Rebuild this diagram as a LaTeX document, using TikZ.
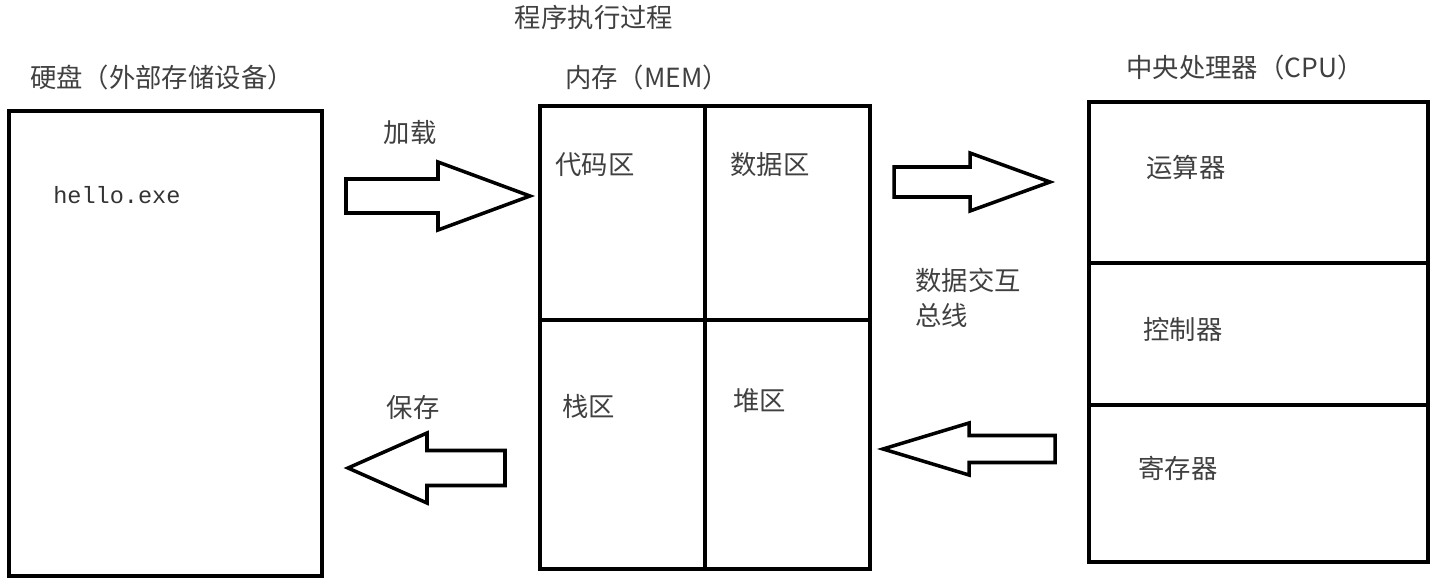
\documentclass[tikz,border=0pt]{standalone}
\usepackage{fontspec}
\setmainfont{Noto Sans CJK SC}
\setmonofont{Liberation Mono}
\usetikzlibrary{positioning}

% fat outline arrow: tail x, head base x, tip x, centre y, shaft half, head half
\newcommand\fatarrow[6]{%
  \draw[fat] (#1,#4-#5) -- (#2,#4-#5) -- (#2,#4-#6) -- (#3,#4)
    -- (#2,#4+#6) -- (#2,#4+#5) -- (#1,#4+#5) -- cycle;}

\begin{document}
\begin{tikzpicture}[
  x=0.02cm, y=-0.02cm,
  box/.style={draw, line width=2pt, inner sep=0pt},
  fat/.style={line width=2pt, line join=miter},
  lbl/.style={text=black!75, font=\fontsize{15pt}{18pt}\selectfont, inner sep=0pt},
  sub/.style={lbl, anchor=west},
]
  \useasboundingbox (0,0) rectangle (1438,578);

  % boxes
  \node[box, minimum width=6.26cm, minimum height=9.3cm] (disk) at (165.5,343.5) {};
  \node[box, minimum width=6.6cm, minimum height=9.26cm] (mem) at (705,337.5) {};
  \node[box, minimum width=6.78cm, minimum height=9.2cm] (cpu) at (1258.5,332) {};

  % memory quarters
  \coordinate (memmid) at (705,320);
  \draw[line width=2pt] (mem.north) -- (mem.south);
  \draw[line width=2pt] (mem.west |- memmid) -- (mem.east |- memmid);

  % cpu parts
  \coordinate (cpua) at (1258,263);
  \coordinate (cpub) at (1258,405);
  \draw[line width=2pt] (cpu.west |- cpua) -- (cpu.east |- cpua);
  \draw[line width=2pt] (cpu.west |- cpub) -- (cpu.east |- cpub);

  % titles
  \node[lbl] (title) at (594,17) {程序执行过程};
  \node[lbl] (disklbl) at (162,77) {硬盘（外部存储设备）};
  \node[lbl] (memlbl) at (647,77) {内存（MEM）};
  \node[lbl] (cpulbl) at (1245,67) {中央处理器（CPU）};

  % contents
  \node[anchor=west, inner sep=0pt, text=black!80,
        font=\ttfamily\fontsize{13.4pt}{16pt}\selectfont] (exe) at (53,195) {hello.exe};
  \node[sub] (code) at (555,165) {代码区};
  \node[sub] (data) at (730,165) {数据区};
  \node[sub] (stack) at (562,406) {栈区};
  \node[sub] (heap) at (733,401) {堆区};
  \node[sub] (alu) at (1146,167) {运算器};
  \node[sub] (ctrl) at (1143,329) {控制器};
  \node[sub] (reg) at (1138,468) {寄存器};
  \node[sub] (bus) at (915,280) {数据交互};
  \node[sub] (bus2) at (915,315) {总线};
  \node[lbl] (load) at (410,132) {加载};
  \node[lbl] (save) at (413,407) {保存};

  % arrows
  \fatarrow{346}{438}{530}{196}{17}{34}
  \fatarrow{894}{970}{1050}{182}{15}{29}
  \fatarrow{505}{427}{348}{468}{17.5}{35}
  \fatarrow{1055}{969}{883}{449}{13.5}{26}
\end{tikzpicture}
\end{document}
